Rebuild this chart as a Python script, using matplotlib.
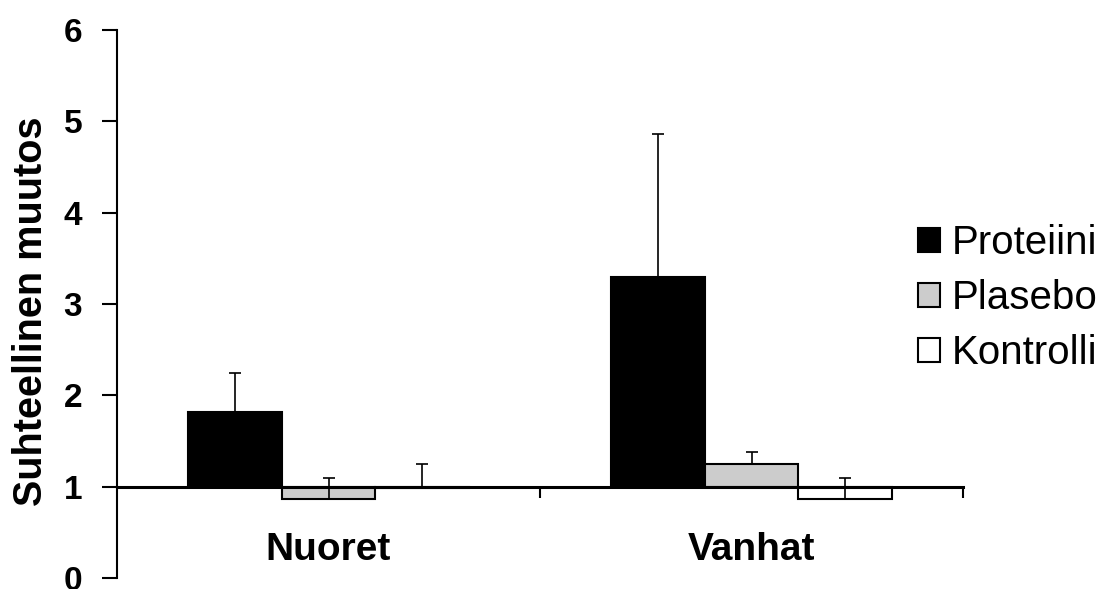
import matplotlib
matplotlib.use("Agg")
import matplotlib.pyplot as plt
import numpy as np

plt.rcParams['font.family'] = ['Liberation Sans', 'DejaVu Sans']

groups = ["Nuoret", "Vanhat"]
series = ["Proteiini", "Plasebo", "Kontrolli"]
values = {
    "Proteiini": [1.82, 3.30],
    "Plasebo": [0.87, 1.25],
    "Kontrolli": [0.99, 0.86],
}
errors = {
    "Proteiini": [0.43, 1.56],
    "Plasebo": [0.22, 0.13],
    "Kontrolli": [0.26, 0.23],
}
colors = {"Proteiini": "#000000", "Plasebo": "#cccccc", "Kontrolli": "#ffffff"}
baseline = 1.0

fig = plt.figure(figsize=(11.03, 5.89), dpi=100)
ax = fig.add_axes([117 / 1103, 1 - 578 / 589, (963 - 117) / 1103, (578 - 30) / 589])

x = np.arange(len(groups))
width = 0.222
offsets = [-width, 0, width]
for name, off in zip(series, offsets):
    vals = np.array(values[name])
    ax.bar(x + off, vals - baseline, bottom=baseline, width=width,
           color=colors[name], edgecolor="black", linewidth=1.5, label=name, zorder=2)
    ax.errorbar(x + off, vals, yerr=[np.zeros_like(vals), errors[name]],
                fmt="none", ecolor="black", elinewidth=1.2, capsize=4.5, capthick=1.2, zorder=3)

ax.set_xlim(-0.5, 1.5)
ax.set_ylim(0, 6)
ax.set_yticks(range(0, 7))
ax.tick_params(axis="y", direction="out", length=11, width=1.5, labelsize=24, pad=14)
for lbl in ax.get_yticklabels():
    lbl.set_fontweight("bold")

# horizontal axis drawn at the baseline value
ax.spines["top"].set_visible(False)
ax.spines["right"].set_visible(False)
ax.spines["bottom"].set_position(("data", baseline))
ax.spines["bottom"].set_linewidth(2.2)
ax.spines["bottom"].set_zorder(4)
ax.spines["left"].set_linewidth(1.5)
ax.set_xticks([0.5, 1.5])
ax.set_xticklabels([])
ax.tick_params(axis="x", direction="out", length=8, width=1.5)
for xi, g in zip(x, groups):
    ax.text(xi, 0.31, g, ha="center", va="center", fontsize=28, fontweight="bold")

ax.set_ylabel("Suhteellinen muutos", fontsize=28.5, fontweight="bold")
ax.yaxis.set_label_coords(-0.079, 0.487)

fig.legend(loc="center left", bbox_to_anchor=(918 / 1103, 1 - 298 / 589),
           frameon=False, fontsize=29, handlelength=0.55, handleheight=0.55,
           handletextpad=0.3, labelspacing=0.42, borderaxespad=0, borderpad=0)

fig.savefig("out.png", dpi=100)
